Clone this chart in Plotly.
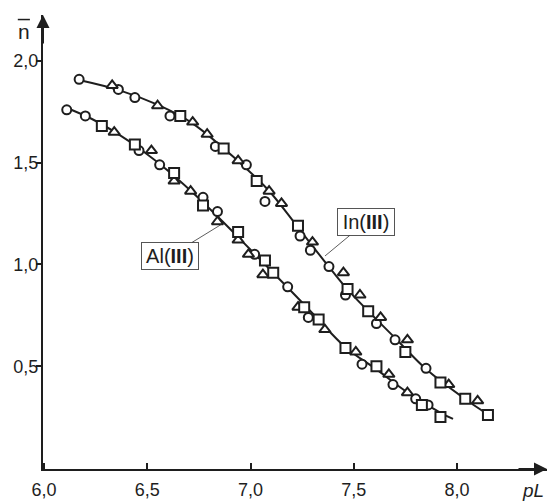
import plotly.graph_objects as go

# ---- data (pL, n-bar) ----
# In(III)
in_circ_x = [6.17, 6.36, 6.44, 6.61, 6.83, 6.98, 7.07, 7.24, 7.29, 7.38, 7.46, 7.61, 7.70, 7.85]
in_circ_y = [1.91, 1.86, 1.82, 1.73, 1.58, 1.49, 1.31, 1.14, 1.07, 0.99, 0.85, 0.71, 0.63, 0.49]
in_tri_x = [6.33, 6.55, 6.72, 6.79, 6.94, 7.09, 7.15, 7.30, 7.45, 7.53, 7.63, 7.76, 7.96, 8.10]
in_tri_y = [1.88, 1.78, 1.70, 1.64, 1.51, 1.36, 1.30, 1.11, 0.96, 0.85, 0.74, 0.63, 0.41, 0.33]
in_sq_x = [6.66, 6.87, 7.03, 7.23, 7.47, 7.57, 7.75, 7.92, 8.04, 8.15]
in_sq_y = [1.73, 1.57, 1.41, 1.19, 0.88, 0.77, 0.57, 0.42, 0.34, 0.26]
in_curve_x = [6.169, 6.363, 6.552, 6.717, 6.939, 7.090, 7.225, 7.380, 7.467, 7.574, 7.705, 7.850, 8.039, 8.155]
in_curve_y = [1.907, 1.857, 1.784, 1.695, 1.509, 1.361, 1.189, 0.988, 0.880, 0.767, 0.634, 0.486, 0.339, 0.260]

# Al(III)
al_circ_x = [6.11, 6.20, 6.46, 6.56, 6.77, 6.84, 7.02, 7.18, 7.28, 7.54, 7.69, 7.80, 7.86]
al_circ_y = [1.76, 1.73, 1.56, 1.49, 1.33, 1.26, 1.05, 0.89, 0.74, 0.51, 0.41, 0.34, 0.31]
al_tri_x = [6.34, 6.52, 6.63, 6.71, 6.84, 6.94, 6.99, 7.06, 7.23, 7.36, 7.51, 7.67, 7.76]
al_tri_y = [1.65, 1.56, 1.41, 1.36, 1.21, 1.12, 1.05, 0.95, 0.79, 0.68, 0.57, 0.46, 0.37]
al_sq_x = [6.28, 6.44, 6.63, 6.77, 6.94, 7.07, 7.11, 7.26, 7.33, 7.46, 7.61, 7.83, 7.92]
al_sq_y = [1.68, 1.59, 1.45, 1.29, 1.16, 1.02, 0.96, 0.79, 0.73, 0.59, 0.50, 0.31, 0.25]
al_curve_x = [6.111, 6.232, 6.354, 6.475, 6.596, 6.717, 6.838, 6.959, 7.080, 7.201, 7.322, 7.458, 7.613, 7.758, 7.923, 7.981]
al_curve_y = [1.769, 1.715, 1.644, 1.560, 1.464, 1.356, 1.238, 1.115, 0.990, 0.865, 0.737, 0.595, 0.482, 0.373, 0.270, 0.241]

x_tick_vals = [6.0, 6.5, 7.0, 7.5, 8.0]
x_tick_text = ["6,0", "6,5", "7,0", "7,5", "8,0"]
y_tick_vals = [0.5, 1.0, 1.5, 2.0]
y_tick_text = ["0,5", "1,0", "1,5", "2,0"]

labels = ["In(<b>III</b>)", "Al(<b>III</b>)"]
label_points = [(7.361, 1.042), (6.862, 1.199)]

FONT = "Liberation Sans, Arial, Helvetica, sans-serif"
INK = "#1e1e1e"

fig = go.Figure()

for cx, cy in [(in_curve_x, in_curve_y), (al_curve_x, al_curve_y)]:
    fig.add_trace(go.Scatter(x=cx, y=cy, mode="lines",
                             line=dict(color=INK, width=2, shape="spline", smoothing=1.0),
                             hoverinfo="skip", showlegend=False))

marker_sets = [
    (in_circ_x, in_circ_y, "circle", 9),
    (al_circ_x, al_circ_y, "circle", 9),
    (in_tri_x, in_tri_y, "triangle-up", 10),
    (al_tri_x, al_tri_y, "triangle-up", 10),
    (in_sq_x, in_sq_y, "square", 10),
    (al_sq_x, al_sq_y, "square", 10),
]
for mx, my, sym, sz in marker_sets:
    fig.add_trace(go.Scatter(x=mx, y=my, mode="markers",
                             marker=dict(symbol=sym, size=sz, color="white",
                                         line=dict(color=INK, width=2)),
                             showlegend=False, cliponaxis=False))

# boxed labels with leader lines
offsets = [(41, -34), (-52, 32)]
for (txt, (px, py), (ax, ay)) in zip(labels, label_points, offsets):
    fig.add_annotation(x=px, y=py, xref="x", yref="y", text=txt,
                       showarrow=True, arrowhead=0, arrowwidth=0.8, arrowcolor="#333",
                       ax=ax, ay=ay, font=dict(family=FONT, size=20, color=INK),
                       bordercolor="#555", borderwidth=1, borderpad=2,
                       bgcolor="white", width=52, height=22)

# axis arrowheads
fig.add_annotation(x=1, y=0, xref="paper", yref="paper", ax=-30, ay=0,
                   showarrow=True, arrowhead=2, arrowsize=1.3, arrowwidth=2, arrowcolor=INK, text="")
fig.add_annotation(x=0, y=1, xref="paper", yref="paper", ax=0, ay=30,
                   showarrow=True, arrowhead=2, arrowsize=1.3, arrowwidth=2, arrowcolor=INK, text="")

# axis titles
fig.add_annotation(x=-0.038, y=0.963, xref="paper", yref="paper", showarrow=False,
                   xanchor="center", yanchor="middle",
                   text="n", font=dict(family=FONT, size=21, color=INK))
fig.add_shape(type="line", xref="paper", yref="paper",
              x0=-0.050, x1=-0.026, y0=0.990, y1=0.990,
              line=dict(color=INK, width=1.5))
fig.add_annotation(x=0.998, y=-0.048, xref="paper", yref="paper", showarrow=False,
                   xanchor="right", yanchor="middle", text="<i>pL</i>",
                   font=dict(family=FONT, size=19, color=INK))

fig.update_layout(
    width=548, height=503,
    margin=dict(l=43, r=1, t=15, b=34, autoexpand=False),
    paper_bgcolor="white", plot_bgcolor="white",
    font=dict(family=FONT, size=18, color=INK),
    xaxis=dict(range=[5.995, 8.436], showgrid=False, zeroline=False, automargin=False,
               showline=True, linecolor=INK, linewidth=2,
               tickvals=x_tick_vals, ticktext=x_tick_text,
               ticks="inside", ticklen=6, tickwidth=1.5, tickcolor=INK,
               ticklabelstandoff=3),
    yaxis=dict(range=[-0.005, 2.226], showgrid=False, zeroline=False, automargin=False,
               showline=True, linecolor=INK, linewidth=2,
               tickvals=y_tick_vals, ticktext=y_tick_text,
               ticks="outside", ticklen=5, tickwidth=1.5, tickcolor=INK,
               ticklabelstandoff=-6),
)

fig.write_html("out.html", config={"displayModeBar": False},
               post_script="document.body.style.margin='0px';document.body.style.padding='0px';")
